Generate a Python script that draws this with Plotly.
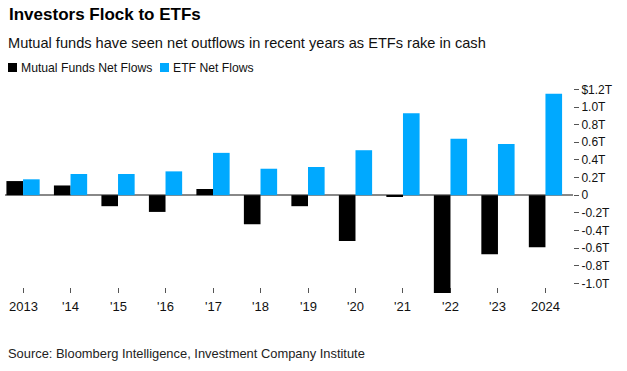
import plotly.graph_objects as go

years = ["2013", "'14", "'15", "'16", "'17", "'18", "'19", "'20", "'21", "'22", "'23", "2024"]
mutual_funds = [0.16, 0.11, -0.125, -0.19, 0.07, -0.33, -0.125, -0.52, -0.02, -1.11, -0.67, -0.59]
etf_flows = [0.18, 0.24, 0.24, 0.27, 0.48, 0.30, 0.32, 0.51, 0.93, 0.64, 0.58, 1.15]
y_tickvals = [1.2, 1.0, 0.8, 0.6, 0.4, 0.2, 0, -0.2, -0.4, -0.6, -0.8, -1.0]
y_ticktext = ["$1.2T", "1.0T", "0.8T", "0.6T", "0.4T", "0.2T", "0", "-0.2T", "-0.4T", "-0.6T", "-0.8T", "-1.0T"]

FONT = "Liberation Sans, Arial, sans-serif"
BLUE = "#00A9FF"
W, H = 627, 371
L, R, T, B = 5, 54, 85, 78
PW, PH = W - L - R, H - T - B

def px(x):
    return (x - L) / PW

def py(y):
    return 1 - (y - T) / PH

fig = go.Figure()
fig.add_trace(go.Bar(x=years, y=mutual_funds, name="Mutual Funds Net Flows", marker_color="#000000", marker_line_width=0))
fig.add_trace(go.Bar(x=years, y=etf_flows, name="ETF Net Flows", marker_color=BLUE, marker_line_width=0))

fig.update_layout(
    width=W, height=H,
    margin=dict(l=L, r=R, t=T, b=B),
    paper_bgcolor="white", plot_bgcolor="white",
    barmode="group", bargap=0.3, bargroupgap=0,
    showlegend=False,
    font=dict(family=FONT, color="#000"),
    xaxis=dict(type="category", range=[-0.38, 11.58], showgrid=False, showline=False,
               ticks="inside", ticklen=5, tickcolor="#555", tickwidth=1,
               showticklabels=False, layer="below traces", zeroline=False),
    yaxis=dict(side="right", range=[-1.11, 1.25], showgrid=False, zeroline=True,
               zerolinecolor="#888", zerolinewidth=1.5,
               tickvals=y_tickvals, ticktext=y_ticktext, ticks="outside", ticklen=5,
               tickcolor="#555", tickfont=dict(size=12, color="#111"), showline=False),
)

anns = [
    dict(text="<b>Investors Flock to ETFs</b>", x=7, y=3, size=17, color="#000"),
    dict(text="Mutual funds have seen net outflows in recent years as ETFs rake in cash", x=6, y=33, size=14.6, color="#111"),
    dict(text="Mutual Funds Net Flows", x=19, y=59, size=12.2, color="#111"),
    dict(text="ETF Net Flows", x=171, y=59, size=12.2, color="#111"),
    dict(text="Source: Bloomberg Intelligence, Investment Company Institute", x=6, y=344, size=12.9, color="#222"),
]
for a in anns:
    fig.add_annotation(text=a["text"], xref="paper", yref="paper",
                       x=px(a["x"]), xanchor="left",
                       y=py(a["y"]), yanchor="top", showarrow=False,
                       font=dict(size=a["size"], color=a["color"], family=FONT))

# x tick labels (categories) placed just under the tick marks
for i, yr in enumerate(years):
    fig.add_annotation(text=yr, x=i, xref="x", yref="paper", y=py(297), yanchor="top",
                       showarrow=False, font=dict(size=13, color="#111", family=FONT))

fig.add_shape(type="rect", xref="paper", yref="paper", x0=px(8), x1=px(17),
              y0=py(72), y1=py(63), fillcolor="#000", line_width=0)
fig.add_shape(type="rect", xref="paper", yref="paper", x0=px(160), x1=px(169),
              y0=py(72), y1=py(63), fillcolor=BLUE, line_width=0)

fig.write_html("out.html", config={"displayModeBar": False},
               post_script="document.body.style.margin='0';document.body.style.overflow='hidden';")
